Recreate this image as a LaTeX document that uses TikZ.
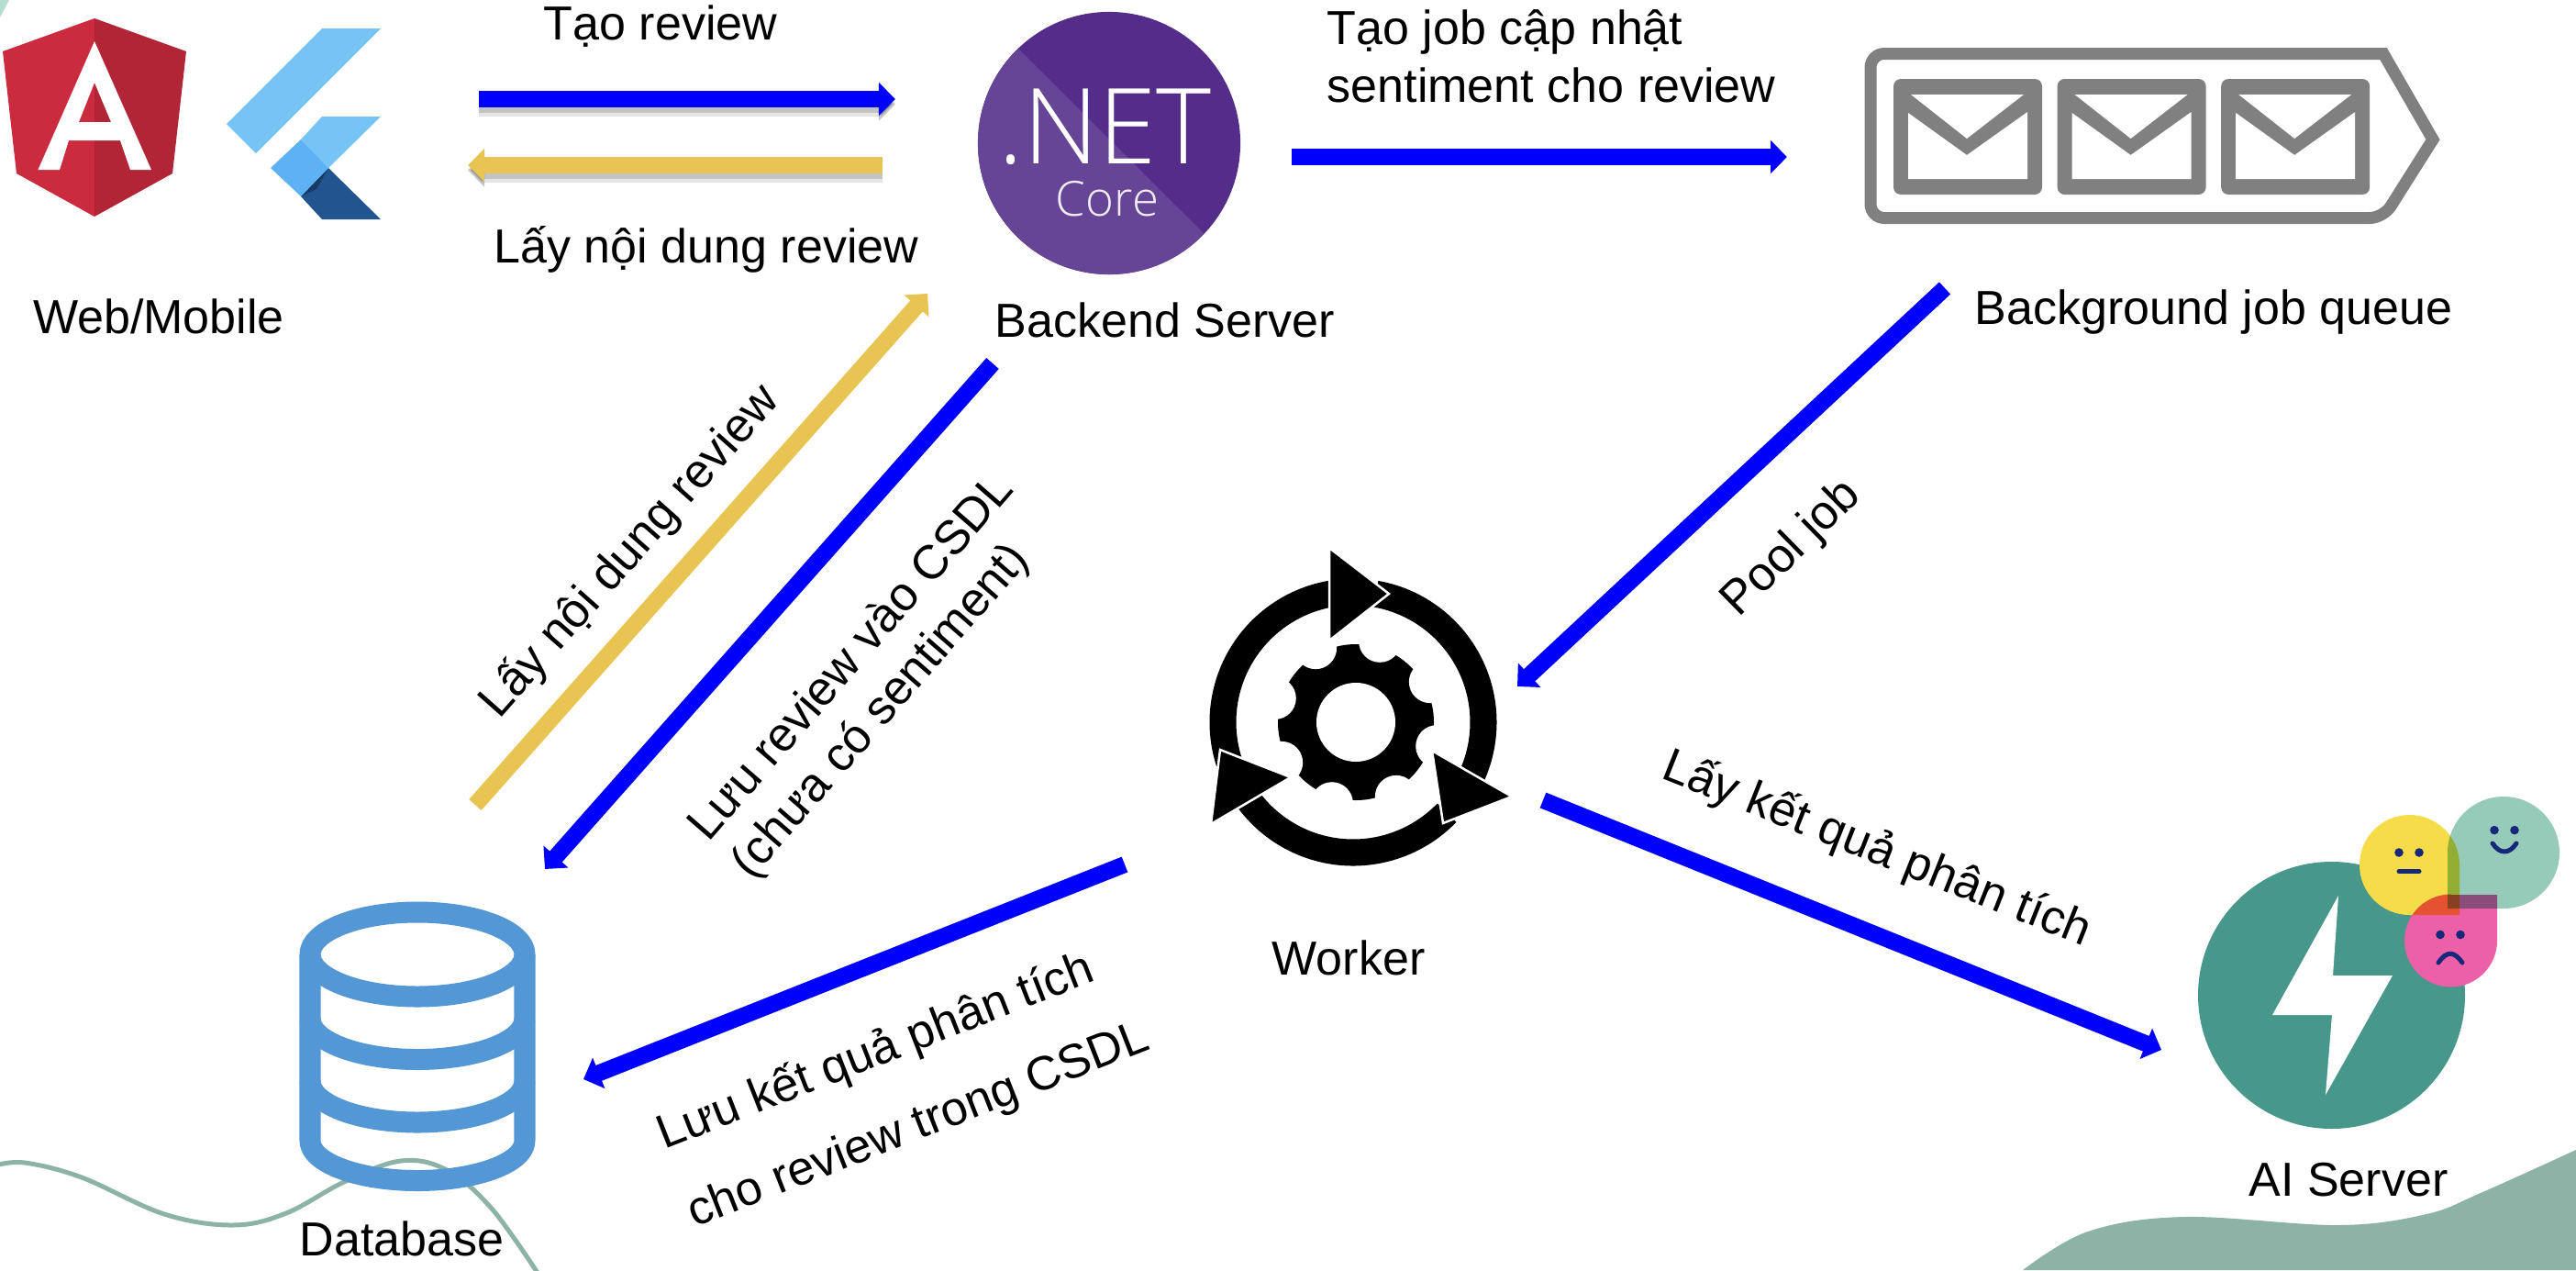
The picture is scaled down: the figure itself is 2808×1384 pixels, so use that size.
\documentclass[tikz,border=0pt]{standalone}
\usepackage{fontspec}
\setmainfont{Liberation Sans}
\newfontfamily\netfont{Open Sans Light}
\usetikzlibrary{arrows.meta}

\definecolor{ngred}{HTML}{CB2B3E}
\definecolor{ngdark}{HTML}{B12536}
\definecolor{flutterlight}{HTML}{75C4F5}
\definecolor{fluttermid}{HTML}{5EB1F2}
\definecolor{flutterdark}{HTML}{22558F}
\definecolor{netdark}{HTML}{542D8A}
\definecolor{netlight}{HTML}{674596}
\definecolor{queuegray}{HTML}{808080}
\definecolor{dbblue}{HTML}{5497D5}
\definecolor{goldline}{HTML}{E8C452}
\definecolor{aiteal}{HTML}{47988B}
\definecolor{faceyellow}{HTML}{F7DC49}
\definecolor{facegreen}{HTML}{97CBB9}
\definecolor{facepink}{HTML}{EC60A8}
\definecolor{facenavy}{HTML}{16287A}
\definecolor{wavegreen}{HTML}{8DB3A7}
\definecolor{cornergreen}{HTML}{B5DDD0}

\tikzset{
  lbl/.style={font=\fontsize{14.8}{17.7}\selectfont,inner sep=0pt},
  flow/.style={line width=0.18cm,-{Triangle[length=0.18cm,width=0.35cm]}},
  blueflow/.style={flow,draw=blue},
  goldflow/.style={flow,draw=goldline},
  softshadow/.style={
    preaction={draw=black,opacity=0.10,line width=0.26cm,transform canvas={yshift=-0.06cm}},
    preaction={draw=black,opacity=0.15,line width=0.20cm,transform canvas={yshift=-0.05cm}}},
  dbline/.style={draw=dbblue,line width=0.23cm},
  facemouth/.style={draw=facenavy,line width=0.05cm,line cap=round},
}

\begin{document}
\begin{tikzpicture}[x=0.01cm,y=0.01cm,line join=bevel]
\useasboundingbox (0,0) rectangle (2808,-1384);
%%
\fill [cornergreen] (0,0) -- (10,0) -- (0,-19) -- cycle;
\fill [wavegreen] plot [smooth,tension=0.6] coordinates {(2205,-1384) (2276,-1342) (2381,-1326) (2549,-1335) (2645,-1323) (2704,-1300) (2808,-1253)} -- (2808,-1384) -- cycle;
\draw [wavegreen,line width=0.05cm] plot [smooth,tension=0.6] coordinates {(-5,-1270) (27,-1267) (89,-1283) (179,-1323) (254,-1335) (312,-1322) (375,-1288) (437,-1265) (487,-1275) (536,-1317) (588,-1390)};
%% web and mobile
\fill [ngred] (103,-20) -- (3,-56) -- (18,-189) -- (103,-236) -- cycle;
\fill [ngdark] (103,-20) -- (203,-56) -- (188,-189) -- (103,-236) -- cycle;
\fill [white,even odd rule] (103,-45) -- (165,-185) -- (142,-185) -- (131,-153) -- (75,-153) -- (65,-185) -- (41.5,-185) -- cycle (103,-90) -- (86,-133) -- (121,-133) -- cycle;
\fill [flutterlight] (351,-31) -- (415,-31) -- (279,-167) -- (247,-135) -- cycle;
\fill [flutterlight] (351,-127) -- (415,-127) -- (358,-183) -- (328,-152) -- cycle;
\fill [flutterdark] (328,-214) -- (358,-183) -- (415,-239) -- (351,-239) -- cycle;
\fill [flutterdark!70!black] (328,-214) -- (358,-183) -- (345,-206) -- cycle;
\fill [fluttermid] (328,-152) -- (358,-183) -- (328,-214) -- (295,-183) -- cycle;
%% backend
\node (node_net) at (1209,-156) [circle,fill=netdark,minimum size=2.86cm,inner sep=0pt] {};
\begin{scope}
  \clip (1209,-156) circle (143);
  \fill [netlight] (1062,-5) -- (1362,-304) -- (1050,-320) -- (1040,-5) -- cycle;
\end{scope}
\node (node_nettext) at (1204.5,-178) [anchor=base,text=white,inner sep=0pt,font=\netfont\fontsize{32.5}{32.5}\selectfont] {.NET};
\node (node_core) at (1207,-235) [anchor=base,text=white!90!netlight,inner sep=0pt,font=\netfont\fontsize{15}{15}\selectfont] {Core};
%% queue
\draw [queuegray,line width=0.13cm,line join=miter] (2652,-152) -- (2598,-58.5) [rounded corners=0.15cm] -- (2039,-58.5) -- (2039,-237.5) -- (2598,-237.5) [sharp corners] -- cycle;
\foreach \x in {0,178.6,357.2} {
  \fill [queuegray,rounded corners=0.08cm] ({2064+\x},-86) rectangle ({2226+\x},-212);
  \fill [white] ({2083+\x},-103) -- ({2206+\x},-103) -- ({2144+\x},-151) -- cycle;
  \fill [white] ({2080+\x},-123) -- ({2144+\x},-169) -- ({2210+\x},-122) -- ({2210+\x},-195) -- ({2080+\x},-195) -- cycle;
}
%% worker
\fill [black] (1478,-787) circle (85);
\foreach \a in {28.5,73.5,118.5,163.5,208.5,253.5,298.5,343.5} {
  \fill [white] ([shift={(\a:92)}]1478,-787) circle (23);
}
\fill [white] (1478,-787) circle (43);
\draw [black,line width=0.29cm] ([shift={(198:142)}]1475,-787) arc [start angle=198,end angle=97,radius=142];
\draw [black,line width=0.29cm] ([shift={(80:142)}]1475,-787) arc [start angle=80,end angle=-28,radius=142];
\draw [black,line width=0.29cm] ([shift={(-44:142)}]1475,-787) arc [start angle=-44,end angle=-147,radius=142];
\filldraw [fill=black,draw=white,line width=0.025cm,line join=miter] (1449,-597) -- (1514,-647) -- (1449,-698) -- cycle;
\filldraw [fill=black,draw=white,line width=0.025cm,line join=miter] (1561,-818) -- (1648,-868) -- (1573,-897) -- cycle;
\filldraw [fill=black,draw=white,line width=0.025cm,line join=miter] (1330,-817) -- (1407,-847) -- (1320,-898) -- cycle;
%% database
\draw [dbline] (455,-1040) ellipse [x radius=117,y radius=46];
\draw [dbline] (338,-1040) -- (338,-1243) arc [start angle=180,end angle=360,x radius=117,y radius=43.5] -- (572,-1040);
\draw [dbline] (338,-1110) arc [start angle=180,end angle=360,x radius=117,y radius=44.5];
\draw [dbline] (338,-1178) arc [start angle=180,end angle=360,x radius=117,y radius=45];
%% ai server
\fill [aiteal] (2541.5,-1084.5) circle (145.5);
\fill [white] (2549,-976) -- (2543,-1063) -- (2608,-1063) -- (2535,-1193) -- (2542,-1106) -- (2477,-1106) -- cycle;
\begin{scope}[blend group=multiply]
  \fill [faceyellow] (2681,-943) -- (2681,-997) -- (2626.5,-997) arc [start angle=270,end angle=0,radius=54.5] -- cycle;
  \fill [facegreen] (2668,-929.5) -- (2668,-990) -- (2729,-990) arc [start angle=270,end angle=540,radius=61] -- cycle;
  \fill [facepink] (2671.5,-975) -- (2722,-975) -- (2722,-1025) arc [start angle=0,end angle=-270,radius=50.5] -- cycle;
\end{scope}
\fill [facenavy] (2615,-929) circle (4.8) (2637,-929) circle (4.8);
\draw [facemouth] (2615,-949.5) -- (2637,-949.5);
\fill [facenavy] (2719,-904.6) circle (4.8) (2741,-904.6) circle (4.8);
\draw [facemouth] (2717,-919) .. controls (2725,-931) and (2735,-931) .. (2743,-919);
\fill [facenavy] (2660,-1018.5) circle (4.8) (2682,-1018.5) circle (4.8);
\draw [facemouth] (2658,-1049) .. controls (2667,-1036) and (2675,-1036) .. (2684,-1049);
%% names of the parts
\node (node_web) at (173,-363) [lbl,anchor=base] {Web/Mobile};
\node (node_backend) at (1270,-367) [lbl,anchor=base] {Backend Server};
\node (node_queue) at (2413,-353) [lbl,anchor=base] {Background job queue};
\node (node_worker) at (1470,-1062) [lbl,anchor=base] {Worker};
\node (node_database) at (438,-1368) [lbl,anchor=base] {Database};
\node (node_ai) at (2560,-1303) [lbl,anchor=base] {AI Server};
%% connector labels
\node (node_create) at (720,-43) [lbl,anchor=base] {Tạo review};
\node (node_read) at (770,-286) [lbl,anchor=base] {Lấy nội dung review};
\node (node_job) at (1446,-111) [lbl,anchor=base west,align=left] {Tạo job cập nhật\\sentiment cho review};
\node (node_readdb) at (698,-611) [lbl,anchor=base,rotate=48.5] {Lấy nội dung review};
\node (node_savedb) at (819,-960) [lbl,anchor=base west,align=left,rotate=49] {Lưu review vào CSDL\\(chưa có sentiment)};
\node (node_pool) at (1963,-608) [lbl,anchor=base,rotate=44.5] {Pool job};
\node (node_result) at (2040.5,-939.5) [lbl,anchor=base,rotate=-21.7] {Lấy kết quả phân tích};
\node (node_saveresult) at (757,-1338) [lbl,anchor=base west,align=left,rotate=21.4,font=\fontsize{14.8}{25.9}\selectfont] {Lưu kết quả phân tích\\cho review trong CSDL};
%% connectors
\coordinate (coord_web_out) at (522,-108);
\coordinate (coord_backend_in) at (976,-108);
\coordinate (coord_backend_back) at (962,-180);
\coordinate (coord_web_in) at (510,-180);
\coordinate (coord_backend_out) at (1408,-171);
\coordinate (coord_queue_in) at (1948,-171);
\coordinate (coord_db_up) at (518,-877);
\coordinate (coord_backend_up) at (1011,-320);
\coordinate (coord_backend_down) at (1082,-396);
\coordinate (coord_db_in) at (594,-947);
\coordinate (coord_queue_out) at (2120,-314);
\coordinate (coord_worker_in) at (1654,-748);
\coordinate (coord_worker_db) at (1226,-942);
\coordinate (coord_db_save) at (636,-1176);
\coordinate (coord_worker_ai) at (1682,-872);
\coordinate (coord_ai_in) at (2356,-1144);

\draw [blueflow,softshadow] (coord_web_out) to (coord_backend_in);
\draw [goldflow,softshadow] (coord_backend_back) to (coord_web_in);
\draw [blueflow] (coord_backend_out) to (coord_queue_in);
\draw [goldflow] (coord_db_up) to (coord_backend_up);
\draw [blueflow] (coord_backend_down) to (coord_db_in);
\draw [blueflow] (coord_queue_out) to (coord_worker_in);
\draw [blueflow] (coord_worker_db) to (coord_db_save);
\draw [blueflow] (coord_worker_ai) to (coord_ai_in);
%
\end{tikzpicture}
\end{document}
